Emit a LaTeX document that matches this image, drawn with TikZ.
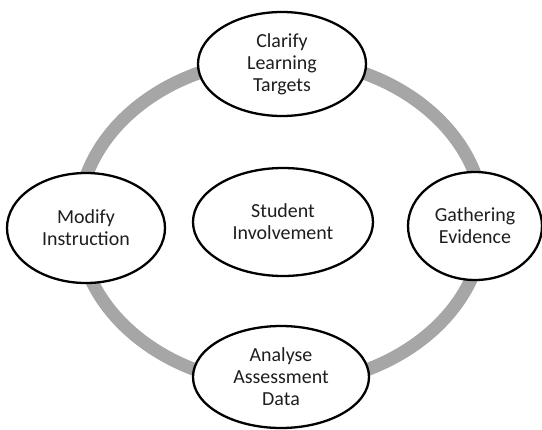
\documentclass[tikz,border=0pt]{standalone}
\usepackage{fontspec}
\setmainfont{Carlito}
\usetikzlibrary{shapes.geometric}
\definecolor{ringgray}{RGB}{166,166,166}
\definecolor{txt}{RGB}{30,30,30}
\tikzset{
  stage/.style={ellipse, draw=black, line width=2.3bp, fill=white, inner sep=0pt,
    align=center, text=txt, font=\fontsize{20}{22}\selectfont},
}
\begin{document}
\begin{tikzpicture}[x=1bp,y=1bp]
\useasboundingbox (0,0) rectangle (542,429);
\draw[ringgray, line width=13bp] (281,207) ellipse [x radius=203, y radius=163];
\node[stage, minimum width=168bp, minimum height=104bp] (clarify) at (282,365) {Clarify\\Learning\\Targets};
\node[stage, minimum width=158bp, minimum height=110bp] (modify) at (86,201) {Modify\\Instruction};
\node[stage, minimum width=134bp, minimum height=108bp] (gather) at (475,203) {Gathering\\Evidence};
\node[stage, minimum width=176bp, minimum height=102bp] (analyse) at (281,52) {Analyse\\Assessment\\Data};
\node[stage, minimum width=180bp, minimum height=108bp] (student) at (283,207) {Student\\Involvement};
\end{tikzpicture}
\end{document}
